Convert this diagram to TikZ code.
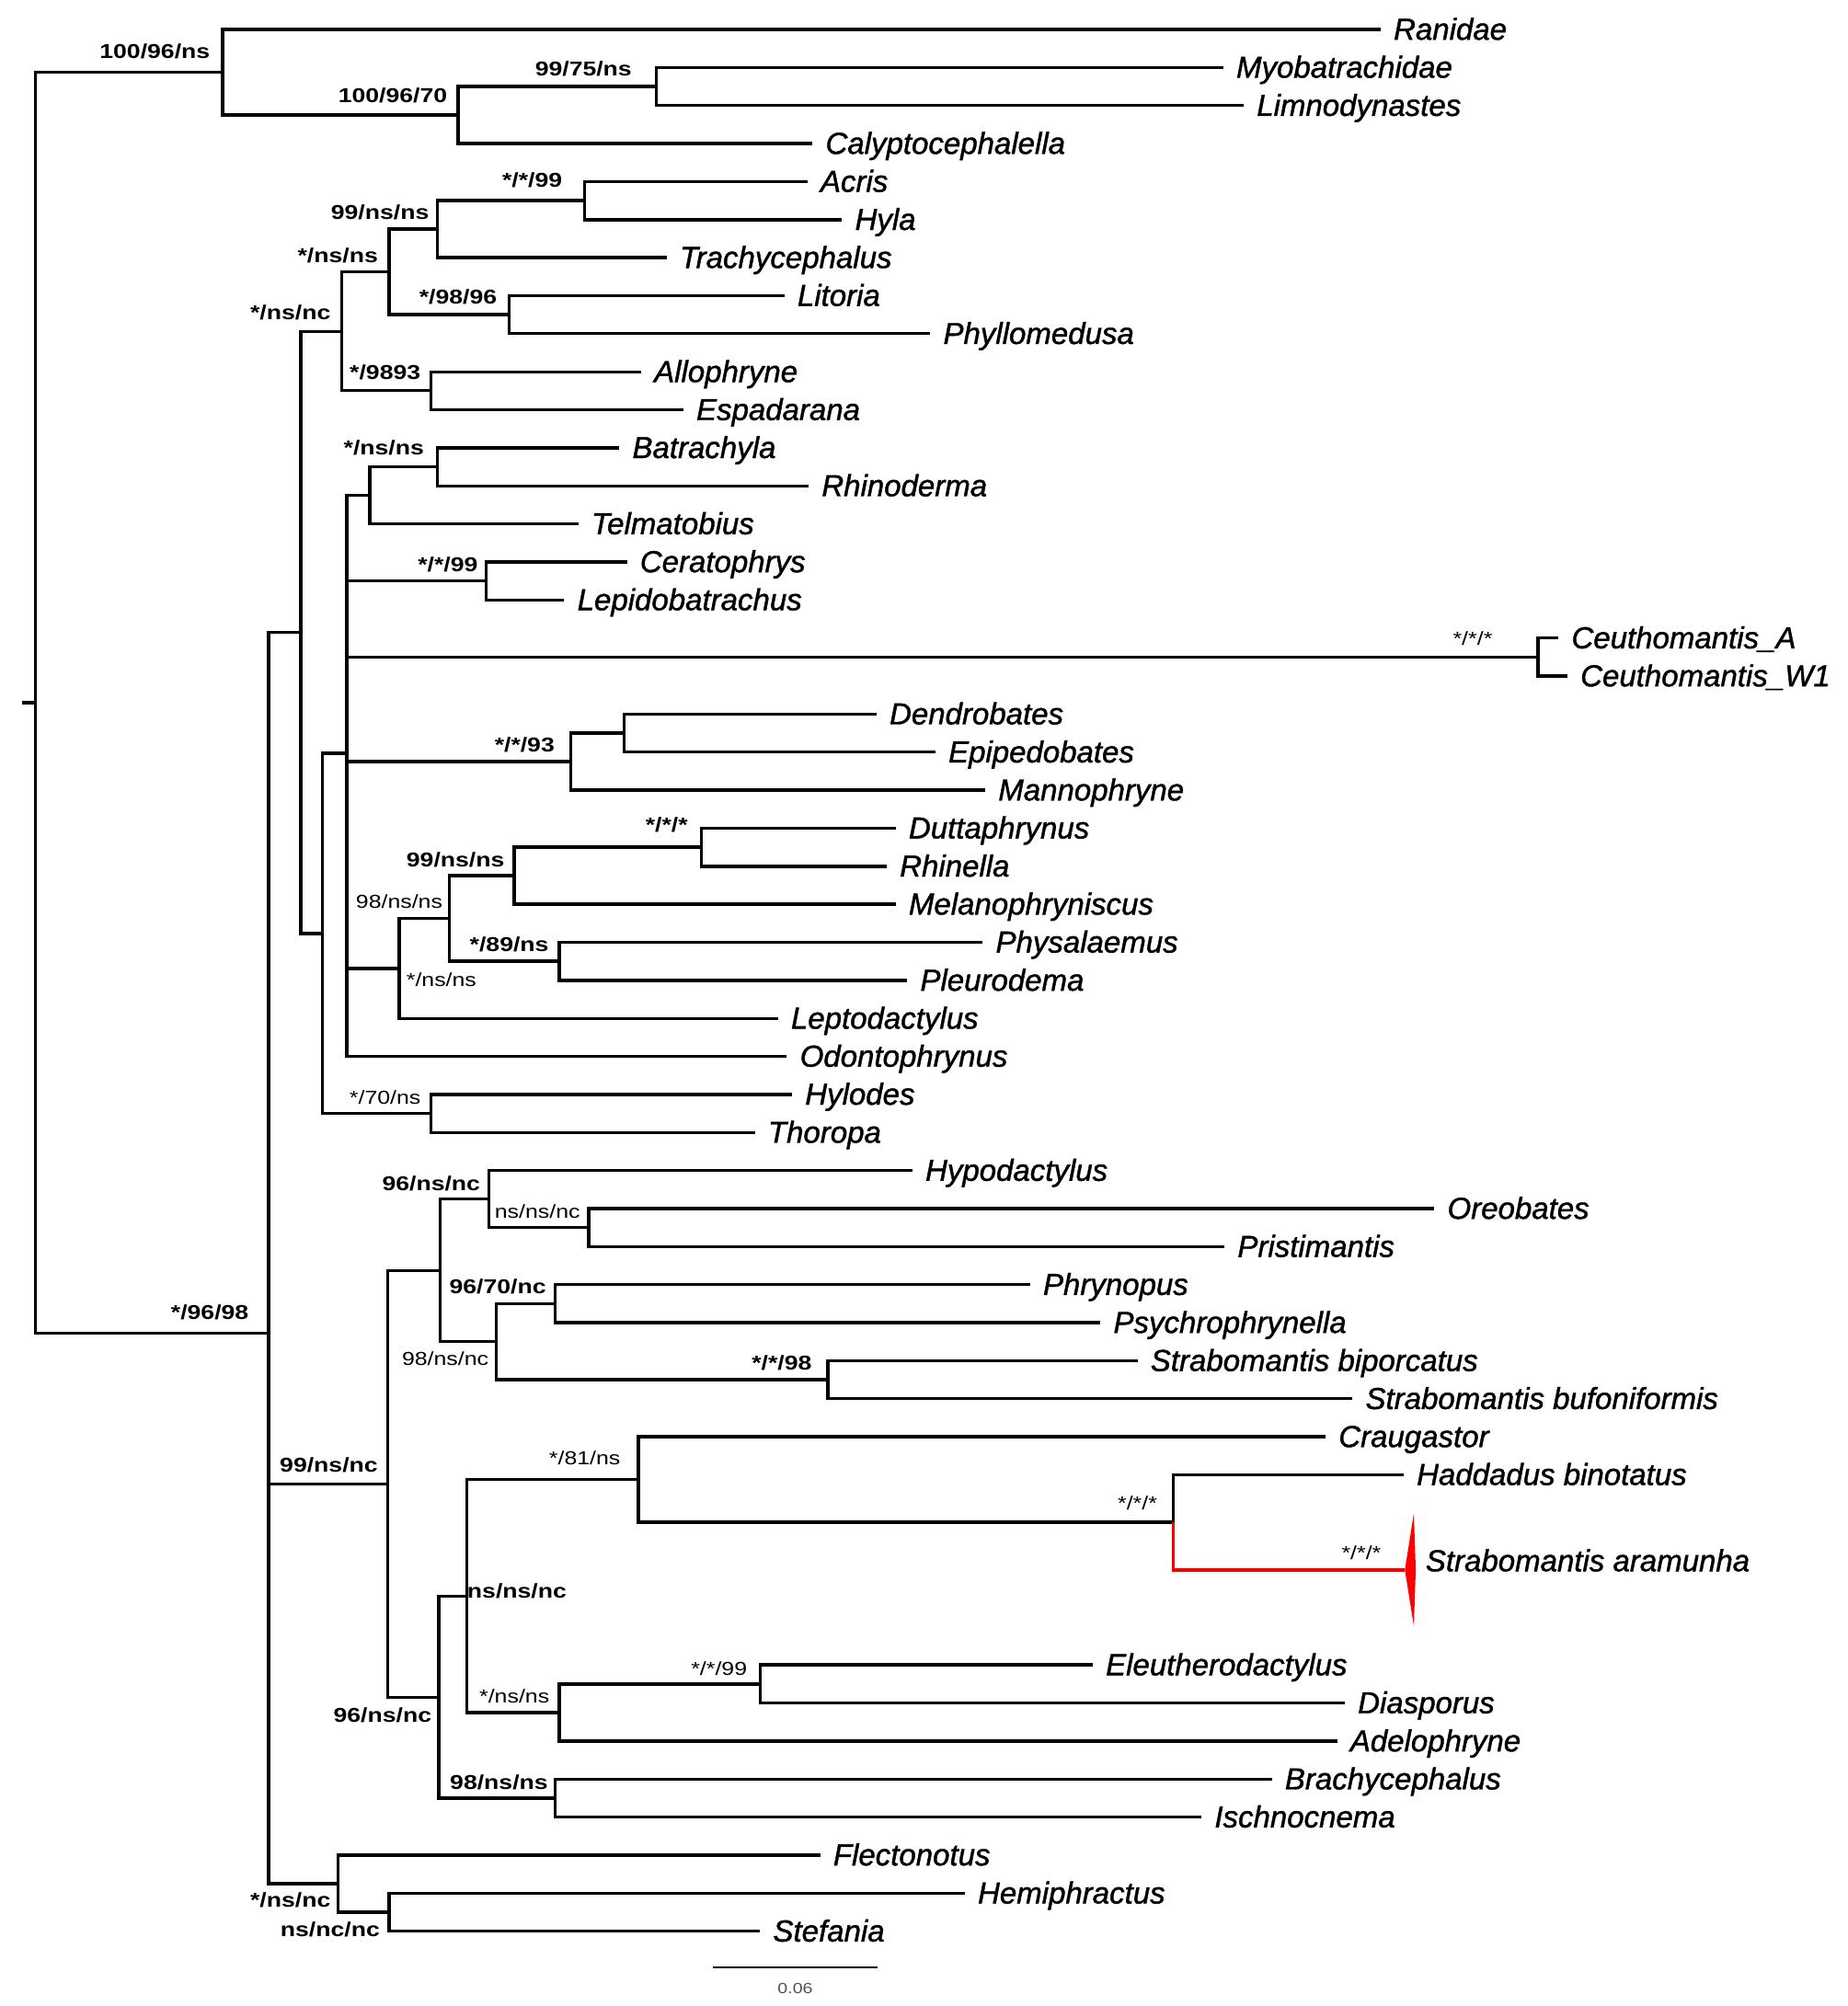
\documentclass[tikz,border=0pt]{standalone}
\usepackage{fontspec}
\usepackage{tikz}
\newfontfamily\taxfont[FakeBold=1.2]{Liberation Sans}
\newfontfamily\supfont[FakeStretch=1.22]{Liberation Sans}
\definecolor{branchRed}{RGB}{255, 0, 0}
\definecolor{scaleGray}{RGB}{80, 80, 80}

\begin{document}
\begin{tikzpicture}[x=0.6953pt, y=-0.6953pt, line width=1.7pt,
  taxon/.style={font=\taxfont\fontsize{16.5pt}{18pt}\selectfont\itshape, anchor=base west, inner sep=0pt, xshift=6.3pt, yshift=-5.6pt},
  supb/.style={font=\supfont\fontsize{10.9pt}{12pt}\selectfont\bfseries, inner sep=0pt},
  supn/.style={font=\supfont\fontsize{10.2pt}{12pt}\selectfont, inner sep=0pt}]
  \useasboundingbox (0,0) rectangle (1444,1568);

  \coordinate (stub) at (17,549.4);
  \coordinate (root) at (27.5,549.4);
  \coordinate (ntop) at (174,56.5);
  \coordinate (ncal) at (358,89.9);
  \coordinate (nmyo) at (513,67.6);
  \coordinate (ng) at (210,1042.2);
  \coordinate (nb) at (235,494.3);
  \coordinate (nhyl1) at (267,259.0);
  \coordinate (nhylid) at (304,212.5);
  \coordinate (ntrach) at (342,179.1);
  \coordinate (nacris) at (457,156.8);
  \coordinate (nlit) at (398,246.0);
  \coordinate (nallo) at (337,305.4);
  \coordinate (na) at (252,729.6);
  \coordinate (npoly) at (271,588.8);
  \coordinate (ntelm) at (289,387.2);
  \coordinate (nbatr) at (342,364.9);
  \coordinate (ncer) at (380,454.1);
  \coordinate (nceu) at (1202,513.6);
  \coordinate (nmann) at (446,595.3);
  \coordinate (ndend) at (488,573.0);
  \coordinate (nlep) at (312,757.0);
  \coordinate (nbuf) at (351,718.0);
  \coordinate (nmel) at (402,684.5);
  \coordinate (ndutt) at (548,662.2);
  \coordinate (nphys) at (437,751.4);
  \coordinate (nhylod) at (337,870.3);
  \coordinate (nf) at (303,1159.8);
  \coordinate (nc) at (344,993.0);
  \coordinate (nhypo) at (382,937.2);
  \coordinate (noreo) at (460,959.5);
  \coordinate (npsy) at (388,1048.7);
  \coordinate (nphryn) at (434,1019.0);
  \coordinate (nstrab) at (647,1078.5);
  \coordinate (ne) at (343,1326.6);
  \coordinate (nd) at (365,1247.6);
  \coordinate (ncraug) at (499,1156.5);
  \coordinate (nhadd) at (917,1189.9);
  \coordinate (nadel) at (437,1338.6);
  \coordinate (neleu) at (594,1316.3);
  \coordinate (nbrach) at (434,1405.5);
  \coordinate (nflec) at (264,1472.4);
  \coordinate (nhemi) at (304,1494.7);
  \coordinate (aram) at (1098,1227.1);

  \foreach \n/\x/\y/\t in {
    ranidae/1079/23.0/Ranidae, myobat/956/52.7/Myobatrachidae,
    limno/972/82.5/Limnodynastes, calypto/635/112.2/Calyptocephalella,
    acris/631/141.9/Acris, hyla/658/171.7/Hyla,
    trachy/521/201.4/Trachycephalus, litoria/613/231.1/Litoria,
    phyllo/727/260.8/Phyllomedusa, allo/501/290.6/Allophryne,
    espa/534/320.3/Espadarana, batra/484/350.0/Batrachyla,
    rhinod/632/379.8/Rhinoderma, telma/452/409.5/Telmatobius,
    cerato/490/439.2/Ceratophrys, lepido/441/468.9/Lepidobatrachus,
    ceuA/1218/498.7/Ceuthomantis\_A, ceuW/1225/528.4/Ceuthomantis\_W1,
    dendro/685/558.1/Dendrobates, epipe/731/587.9/Epipedobates,
    manno/770/617.6/Mannophryne, dutta/700/647.3/Duttaphrynus,
    rhinella/693/677.1/Rhinella, melano/700/706.8/Melanophryniscus,
    physa/768/736.5/Physalaemus, pleuro/709/766.3/Pleurodema,
    lepto/608/796.0/Leptodactylus, odonto/615/825.7/Odontophrynus,
    hylodes/619/855.4/Hylodes, thoropa/590/885.2/Thoropa,
    hypo/713/914.9/Hypodactylus, oreo/1121/944.6/Oreobates,
    prist/957/974.4/Pristimantis, phryno/805/1004.1/Phrynopus,
    psychro/860/1033.8/Psychrophrynella, sbip/889/1063.6/Strabomantis biporcatus,
    sbuf/1057/1093.3/Strabomantis bufoniformis, craug/1036/1123.0/Craugastor,
    hadd/1097/1152.7/Haddadus binotatus, eleu/854/1301.4/Eleutherodactylus,
    diaspo/1051/1331.1/Diasporus, adelo/1045/1360.9/Adelophryne,
    brachy/994/1390.6/Brachycephalus, ischno/939/1420.3/Ischnocnema,
    flecto/641/1450.0/Flectonotus, hemi/754/1479.8/Hemiphractus,
    stef/594/1509.5/Stefania}{
    \coordinate (\n) at (\x,\y);
    \node[taxon] (t-\n) at (\n) {\t};
  }

  \draw (stub) -- (root);
  \foreach \p/\c in {root/ntop, root/ng, ntop/ranidae, ntop/ncal,
    ncal/nmyo, ncal/calypto, nmyo/myobat, nmyo/limno,
    ng/nb, ng/nf, ng/nflec, nb/nhyl1, nb/na,
    nhyl1/nhylid, nhyl1/nallo, nhylid/ntrach, nhylid/nlit,
    ntrach/nacris, ntrach/trachy, nacris/acris, nacris/hyla,
    nlit/litoria, nlit/phyllo, nallo/allo, nallo/espa,
    na/npoly, na/nhylod, npoly/ntelm, npoly/ncer, npoly/nceu,
    npoly/nmann, npoly/nlep, npoly/odonto,
    ntelm/nbatr, ntelm/telma, nbatr/batra, nbatr/rhinod,
    ncer/cerato, ncer/lepido, nceu/ceuA, nceu/ceuW,
    nmann/ndend, nmann/manno, ndend/dendro, ndend/epipe,
    nlep/nbuf, nlep/lepto, nbuf/nmel, nbuf/nphys,
    nmel/ndutt, nmel/melano, ndutt/dutta, ndutt/rhinella,
    nphys/physa, nphys/pleuro, nhylod/hylodes, nhylod/thoropa,
    nf/nc, nf/ne, nc/nhypo, nc/npsy, nhypo/hypo, nhypo/noreo,
    noreo/oreo, noreo/prist, npsy/nphryn, npsy/nstrab,
    nphryn/phryno, nphryn/psychro, nstrab/sbip, nstrab/sbuf,
    ne/nd, ne/nbrach, nd/ncraug, nd/nadel,
    ncraug/craug, ncraug/nhadd, nhadd/hadd,
    nadel/neleu, nadel/adelo, neleu/eleu, neleu/diaspo,
    nbrach/brachy, nbrach/ischno,
    nflec/flecto, nflec/nhemi, nhemi/hemi, nhemi/stef}
    \draw (\p) |- (\c);

  \draw[branchRed] (nhadd) |- (aram);
  \fill[branchRed] (aram) -- (1105,1183) -- (1106.5,1227) -- (1105,1271) -- cycle;
  \node[taxon] (t-aram) at ([shift={(6,-7)}]aram) {Strabomantis aramunha};

  \node[supb] (s-ntop) at (121,40) {100/96/ns};
  \node[supb] (s-ncal) at (307,75) {100/96/70};
  \node[supb] (s-nmyo) at (456,54) {99/75/ns};
  \node[supb] (s-nacris) at (416,141) {*/*/99};
  \node[supb] (s-ntrach) at (297,166) {99/ns/ns};
  \node[supb] (s-nhylid) at (264,200) {*/ns/ns};
  \node[supb] (s-nlit) at (358,232) {*/98/96};
  \node[supb] (s-nhyl1) at (227,244) {*/ns/nc};
  \node[supb] (s-nallo) at (301,291) {*/9893};
  \node[supb] (s-nbatr) at (300,350) {*/ns/ns};
  \node[supb] (s-ncer) at (350,441) {*/*/99};
  \node[supn] (s-nceu) at (1151,499) {*/*/*};
  \node[supb] (s-nmann) at (410,582) {*/*/93};
  \node[supb] (s-ndutt) at (521,645) {*/*/*};
  \node[supb] (s-nmel) at (356,672) {99/ns/ns};
  \node[supn] (s-nbuf) at (312,705) {98/ns/ns};
  \node[supb] (s-nphys) at (398,738) {*/89/ns};
  \node[supn] (s-nlep) at (345,766) {*/ns/ns};
  \node[supn] (s-nhylod) at (301,858) {*/70/ns};
  \node[supb] (s-nhypo) at (337,925) {96/ns/nc};
  \node[supn] (s-noreo) at (420,947) {ns/ns/nc};
  \node[supb] (s-nphryn) at (389,1006) {96/70/nc};
  \node[supn] (s-npsy) at (348,1062) {98/ns/nc};
  \node[supb] (s-nstrab) at (611,1065.5) {*/*/98};
  \node[supb] (s-ng) at (164,1026) {*/96/98};
  \node[supb] (s-nf) at (257,1145) {99/ns/nc};
  \node[supn] (s-ncraug) at (457,1140) {*/81/ns};
  \node[supn] (s-nhadd) at (889,1175) {*/*/*};
  \node[supn] (s-aram) at (1064,1214) {*/*/*};
  \node[supb] (s-nd) at (404,1243.5) {ns/ns/nc};
  \node[supn] (s-neleu) at (562,1304) {*/*/99};
  \node[supn] (s-nadel) at (402,1326) {*/ns/ns};
  \node[supb] (s-ne) at (299,1341) {96/ns/nc};
  \node[supb] (s-nbrach) at (390,1393) {98/ns/ns};
  \node[supb] (s-nflec) at (227,1485) {*/ns/nc};
  \node[supb] (s-nhemi) at (258,1508.5) {ns/nc/nc};

  \coordinate (sbl) at (557,1537.6);
  \coordinate (sbr) at (686,1537.6);
  \draw[line width=1pt] (sbl) -- (sbr)
    node[midway, below=8.5pt, supn, font=\supfont\fontsize{8pt}{10pt}\selectfont, text=scaleGray] (scale) {0.06};
\end{tikzpicture}
\end{document}
